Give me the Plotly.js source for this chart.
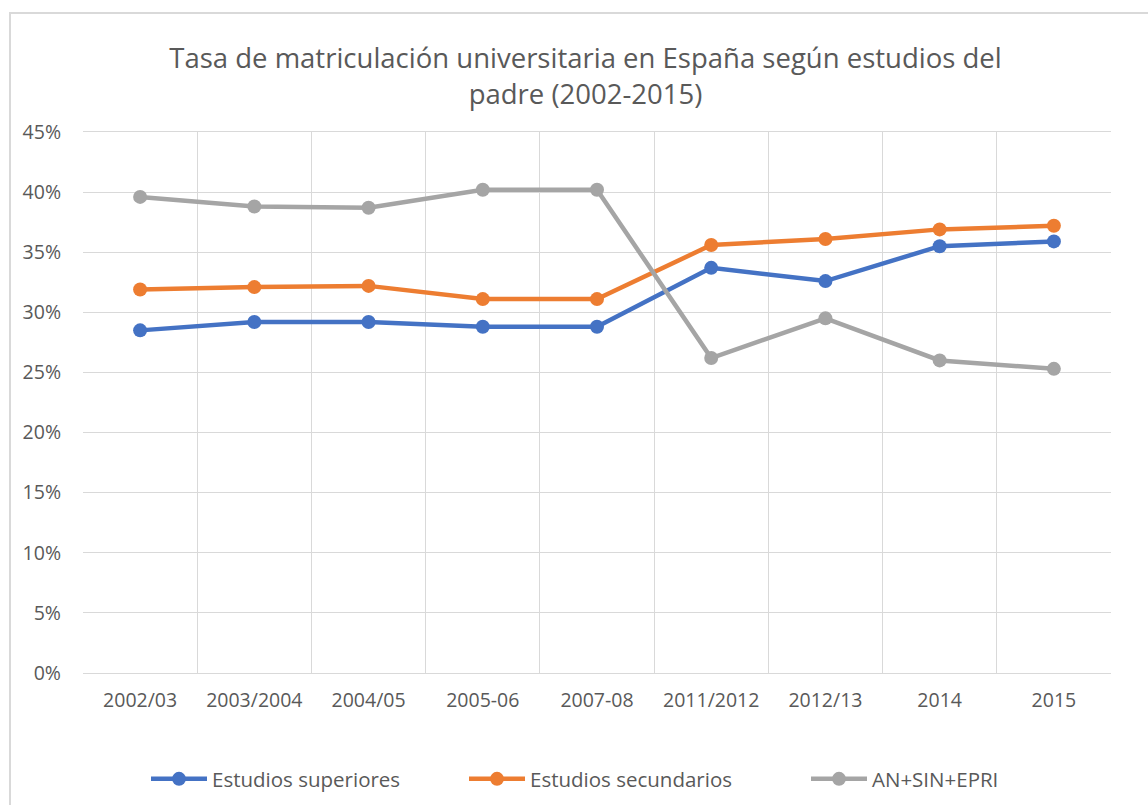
<!DOCTYPE html>
<html>
<head>
<meta charset="utf-8">
<script src="https://cdn.plot.ly/plotly-3.0.1.min.js"></script>
<style>
html,body{margin:0;padding:0;background:#fff;}
#wrap{position:relative;width:1148px;height:805px;}
#chart{width:1148px;height:805px;}
#frame{position:absolute;left:9px;top:12px;right:-5px;bottom:-5px;border-top:2px solid #d9d9d9;border-left:2px solid #d9d9d9;pointer-events:none;}
</style>
</head>
<body>
<div id="wrap"><div id="chart"></div><div id="frame"></div></div>
<script>
const categories = ["2002/03","2003/2004","2004/05","2005-06","2007-08","2011/2012","2012/13","2014","2015"];
const superiores = [28.5, 29.2, 29.2, 28.8, 28.8, 33.7, 32.6, 35.5, 35.9];
const secundarios = [31.9, 32.1, 32.2, 31.1, 31.1, 35.6, 36.1, 36.9, 37.2];
const anSinEpri = [39.6, 38.8, 38.7, 40.2, 40.2, 26.2, 29.5, 26.0, 25.3];
const seriesNames = ["Estudios superiores","Estudios secundarios","AN+SIN+EPRI"];
const colors = ["#4472C4","#ED7D31","#A5A5A5"];
const yTicks = [0,5,10,15,20,25,30,35,40,45];

const font = "Open Sans, sans-serif";
const txt = "#595959";
const legendIds = ["legend","legend2","legend3"];
const legendX = [146, 464, 806];
const data = [superiores, secundarios, anSinEpri].map((vals,i)=>({
  type:"scatter", mode:"lines+markers", x:categories, y:vals, name:seriesNames[i],
  line:{color:colors[i], width:4.5}, marker:{color:colors[i], size:14},
  legend:legendIds[i]
}));

const layout = {
  width:1148, height:805,
  margin:{l:83, r:37, t:132, b:132, autoexpand:false},
  paper_bgcolor:"#fff", plot_bgcolor:"#fff",
  font:{family:font, color:txt, size:19},
  title:{text:"Tasa de matriculación universitaria en España según estudios del<br>padre (2002-2015)",
    font:{family:font, size:27.5, color:txt}, x:0.51, xanchor:"center", xref:"container",
    y:1-68/805, yanchor:"top", yref:"container"},
  xaxis:{type:"category", tickson:"boundaries", showgrid:true, gridcolor:"#d9d9d9", gridwidth:1,
    ticks:"", showline:true, linecolor:"#d9d9d9", mirror:true, zeroline:false,
    tickfont:{family:font, size:19.5, color:txt}, range:[-0.5,8.5], fixedrange:true,
    ticklabelstandoff:10},
  yaxis:{range:[0,45], tickvals:yTicks, ticktext:yTicks.map(v=>v+"%"), showgrid:true,
    gridcolor:"#d9d9d9", gridwidth:1, zeroline:false, showline:false, ticks:"",
    tickfont:{family:font, size:19.5, color:txt}, ticklabelstandoff:21, fixedrange:true},
  showlegend:true
};
legendIds.forEach((id,i)=>{
  layout[id] = {orientation:"h", xref:"container", yref:"container", x:legendX[i]/1148, xanchor:"left",
    y:1-779/805, yanchor:"middle", font:{family:font, size:20.5, color:txt}, itemwidth:56,
    bgcolor:"rgba(0,0,0,0)"};
});
Plotly.newPlot("chart", data, layout, {displayModeBar:false, staticPlot:true});
</script>
</body>
</html>
